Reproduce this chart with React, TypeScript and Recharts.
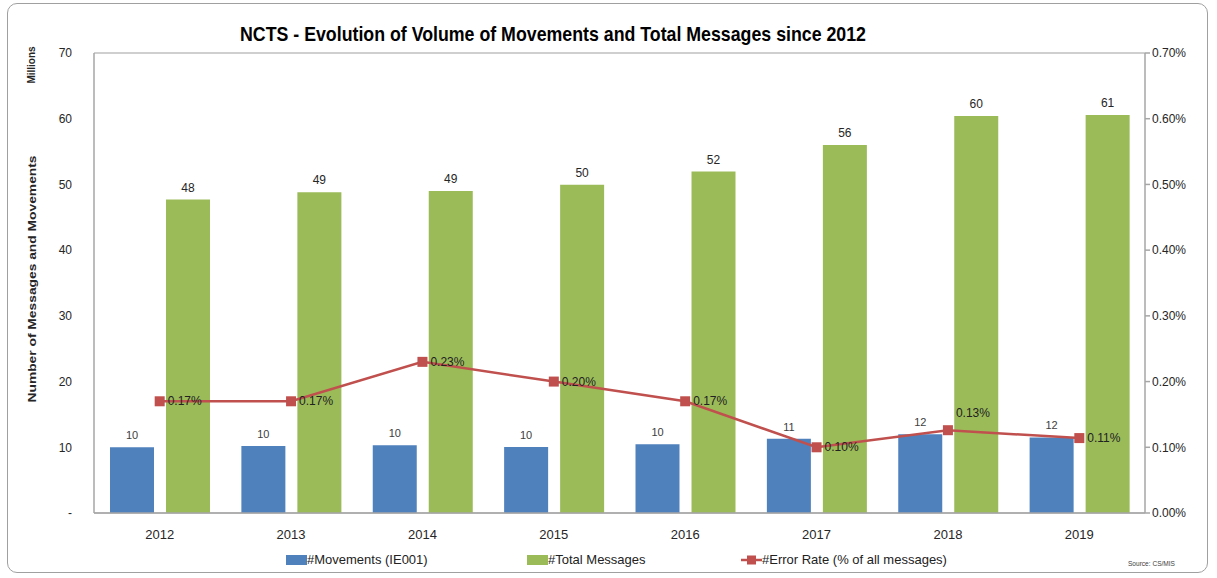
import React from 'react';
import {
  ComposedChart, Bar, Line, XAxis, YAxis, CartesianGrid, LabelList, Legend,
} from 'recharts';

const years = ['2012', '2013', '2014', '2015', '2016', '2017', '2018', '2019'];
const movements = [10.0, 10.2, 10.3, 10.05, 10.45, 11.3, 12.0, 11.5];
const totalMessages = [47.7, 48.8, 49.0, 49.95, 51.95, 56.0, 60.4, 60.55];
const errorRate = [0.0017, 0.0017, 0.0023, 0.002, 0.0017, 0.001, 0.00126, 0.00114];
const leftTicks = [0, 10, 20, 30, 40, 50, 60, 70];
const rightTicks = [0, 0.001, 0.002, 0.003, 0.004, 0.005, 0.006, 0.007];

const data = years.map((y, i) => ({
  year: y,
  movements: movements[i],
  total: totalMessages[i],
  error: errorRate[i],
}));

const FONT = "'Liberation Sans Narrow', 'Liberation Sans', Arial, sans-serif";
const BLUE = '#4f81bd';
const GREEN = '#9bbb59';
const RED = '#c0504d';
const GRID = '#bfbfbf';

const SquareDot = (props: any) => {
  const { cx, cy } = props;
  if (cx == null || cy == null) return null;
  return <rect x={cx - 5} y={cy - 5} width={10} height={10} fill={RED} />;
};

const ErrorLabel = (props: any) => {
  const { x, y, value, index } = props;
  const above = index === 6;
  return (
    <text
      x={x + 8}
      y={above ? y - 13 : y + 4}
      fontSize={12}
      fontFamily={FONT}
      fill="#222"
      textAnchor="start"
    >
      {(value * 100).toFixed(2) + '%'}
    </text>
  );
};

const LegendContent = () => (
  <div style={{ position: 'relative', height: 20, fontFamily: FONT, fontSize: 13, color: '#222' }}>
    <div style={{ position: 'absolute', left: 286, top: 9, display: 'flex', alignItems: 'center' }}>
      <span style={{ display: 'inline-block', width: 21, height: 10, background: BLUE }} />
      <span>#Movements (IE001)</span>
    </div>
    <div style={{ position: 'absolute', left: 527, top: 9, display: 'flex', alignItems: 'center' }}>
      <span style={{ display: 'inline-block', width: 21, height: 10, background: GREEN }} />
      <span>#Total Messages</span>
    </div>
    <div style={{ position: 'absolute', left: 741, top: 9, display: 'flex', alignItems: 'center' }}>
      <svg width={21} height={12} style={{ display: 'block' }}>
        <line x1={0} y1={6} x2={21} y2={6} stroke={RED} strokeWidth={2.5} />
        <rect x={6} y={1.5} width={9} height={9} fill={RED} />
      </svg>
      <span>#Error Rate (% of all messages)</span>
    </div>
  </div>
);

export default function App() {
  return (
    <div style={{ position: 'absolute', left: 0, top: 0, width: 1217, height: 578, background: '#fff' }}>
      <div
        style={{
          position: 'absolute', left: 7, top: 3, width: 1201, height: 570,
          border: '1.5px solid #a0a0a0', borderRadius: 10, boxSizing: 'border-box',
        }}
      />
      <div style={{ position: 'absolute', left: 0, top: 0 }}>
        <ComposedChart
          width={1217}
          height={578}
          data={data}
          margin={{ top: 53, right: 0, bottom: 15, left: 0 }}
          barGap={12}
        >
          <CartesianGrid vertical={false} stroke={GRID} strokeWidth={1.5} />
          <XAxis
            dataKey="year"
            height={30}
            tickLine={false}
            tickSize={0}
            tickMargin={17}
            stroke="#a6a6a6"
            strokeWidth={1.5}
            tick={{ fontSize: 13, fill: '#262626', fontFamily: FONT }}
          />
          <YAxis
            yAxisId="left"
            width={94}
            domain={[0, 70]}
            ticks={leftTicks}
            interval={0}
            tickLine={false}
            tickMargin={16}
            stroke="#a6a6a6"
            strokeWidth={1.5}
            tick={{ fontSize: 12, fill: '#262626', fontFamily: FONT }}
            tickFormatter={(v: number) => (v === 0 ? '-' : String(v))}
          />
          <YAxis
            yAxisId="right"
            orientation="right"
            width={72}
            domain={[0, 0.007]}
            ticks={rightTicks}
            interval={0}
            tickSize={5}
            tickMargin={2}
            stroke="#a6a6a6"
            strokeWidth={1.5}
            tick={{ fontSize: 12, fill: '#262626', fontFamily: FONT }}
            tickFormatter={(v: number) => (v * 100).toFixed(2) + '%'}
          />
          <Legend verticalAlign="bottom" height={20} content={<LegendContent />} />
          <Bar yAxisId="left" dataKey="movements" fill={BLUE} barSize={44} isAnimationActive={false}>
            <LabelList
              dataKey="movements"
              position="top"
              offset={8}
              fontSize={11}
              fontFamily={FONT}
              fill="#404040"
              formatter={(v: any) => Math.round(Number(v))}
            />
          </Bar>
          <Bar yAxisId="left" dataKey="total" fill={GREEN} barSize={44} isAnimationActive={false}>
            <LabelList
              dataKey="total"
              position="top"
              offset={8}
              fontSize={12}
              fontFamily={FONT}
              fill="#262626"
              formatter={(v: any) => Math.round(Number(v))}
            />
          </Bar>
          <Line
            yAxisId="right"
            dataKey="error"
            stroke={RED}
            strokeWidth={2.5}
            dot={<SquareDot />}
            activeDot={false}
            isAnimationActive={false}
          >
            <LabelList dataKey="error" content={<ErrorLabel />} />
          </Line>
        </ComposedChart>
      </div>
      <svg
        width={1217}
        height={578}
        style={{ position: 'absolute', left: 0, top: 0, pointerEvents: 'none' }}
      >
        <text
          x={240}
          y={41}
          fontSize={21}
          fontWeight="bold"
          fontFamily={FONT}
          fill="#000"
          textLength={626}
          lengthAdjust="spacingAndGlyphs"
        >
          NCTS - Evolution of Volume of Movements and Total Messages  since 2012
        </text>
        <text
          transform="translate(35, 65) rotate(-90)"
          textAnchor="middle"
          fontSize={10}
          fontWeight="bold"
          fontFamily={FONT}
          fill="#262626"
        >
          Millions
        </text>
        <text
          transform="translate(36, 279) rotate(-90)"
          textAnchor="middle"
          fontSize={11.5}
          fontWeight="bold"
          fontFamily={FONT}
          fill="#262626"
          textLength={247}
          lengthAdjust="spacingAndGlyphs"
        >
          Number of Messages and Movements
        </text>
        <text
          x={1128}
          y={566}
          fontSize={8}
          fontFamily={FONT}
          fill="#404040"
          textLength={47}
          lengthAdjust="spacingAndGlyphs"
        >
          Source: CS/MIS
        </text>
      </svg>
    </div>
  );
}
